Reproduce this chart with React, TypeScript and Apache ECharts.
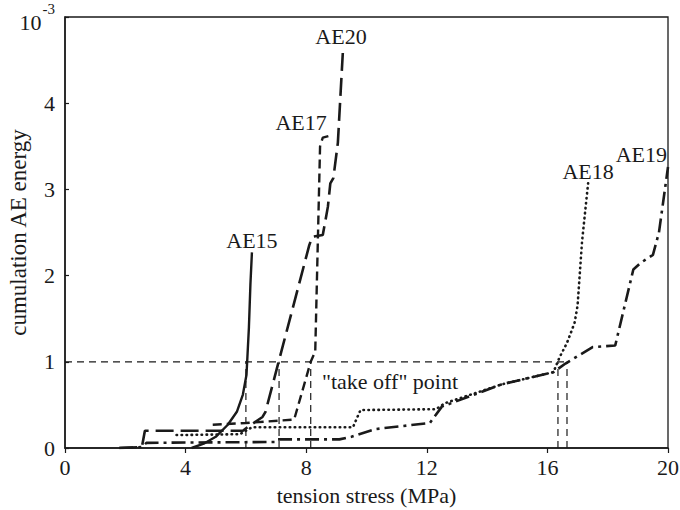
import React, { useEffect, useRef } from 'react';
import * as echarts from 'echarts';

// ---- data (x: tension stress MPa, y: cumulation AE energy x 10^-3) ----
const ae15: number[][] = [
  [4.2, 0], [4.6, 0.05], [5.0, 0.13], [5.4, 0.27], [5.7, 0.42], [5.9, 0.62],
  [6.02, 0.85], [6.1, 1.4], [6.15, 1.9], [6.2, 2.27],
];
const ae20: number[][] = [
  [1.8, 0], [2.55, 0.01], [2.65, 0.2], [5.9, 0.2], [6.05, 0.24], [6.55, 0.36],
  [6.65, 0.42], [8.1, 2.35], [8.2, 2.45], [8.55, 2.47], [8.72, 2.8], [8.8, 3.07],
  [8.9, 3.13], [9.05, 3.54], [9.22, 4.62],
];
const ae17: number[][] = [
  [4.9, 0.27], [6.0, 0.29], [7.6, 0.33], [8.15, 1.0], [8.3, 1.12], [8.46, 3.5],
  [8.55, 3.6], [8.75, 3.62],
];
const ae18: number[][] = [
  [3.7, 0.15], [5.8, 0.16], [6.2, 0.24], [9.55, 0.24], [9.8, 0.44], [12.3, 0.45],
  [12.6, 0.52], [14.5, 0.74], [16.2, 0.88], [16.4, 1.05], [16.65, 1.22],
  [16.9, 1.45], [17.0, 1.65], [17.15, 2.4], [17.35, 3.07],
];
const ae19: number[][] = [
  [1.8, 0], [2.55, 0.01], [2.7, 0.06], [7.0, 0.07], [7.05, 0.1], [9.1, 0.1],
  [9.5, 0.13], [10.3, 0.22], [12.1, 0.29], [12.5, 0.48], [14.5, 0.74],
  [16.2, 0.88], [16.6, 0.98], [17.5, 1.17], [18.25, 1.19], [18.85, 2.07],
  [19.1, 2.15], [19.5, 2.24], [19.7, 2.5], [20.0, 3.26],
];
const takeOffX = [6.0, 7.1, 8.15, 16.35, 16.65];
const takeOffLevel = 1;
const seriesNames = ['AE15', 'AE20', 'AE17', 'AE18', 'AE19'];
const xTickValues = [0, 4, 8, 12, 16, 20];
const yTopLabel = ['10', '-3'];
const takeOffText = '"take off" point';
const xName = 'tension stress (MPa)';
const yName = 'cumulation AE energy';

const FONT = 'Liberation Serif';
const INK = '#1a1a1a';

function withEndLabel(data: number[][], text: string, position: any, offset: number[], distance = 2) {
  return data.map((p, i) =>
    i === data.length - 1
      ? {
          value: p,
          label: {
            show: true,
            formatter: text,
            position,
            offset,
            distance,
            fontFamily: FONT,
            fontSize: 22,
            color: INK,
          },
        }
      : p
  );
}

export default function App() {
  const ref = useRef<HTMLDivElement>(null);
  useEffect(() => {
    if (!ref.current) return;
    const chart = echarts.init(ref.current, undefined, { renderer: 'svg' });
    const base = {
      type: 'line',
      symbol: 'circle',
      symbolSize: 0,
      showSymbol: true,
      silent: true,
      z: 3,
    };
    const refStyle = { color: INK, width: 1.2, type: [7, 5] };
    const refSeries: any[] = takeOffX.map((x) => ({
      ...base,
      z: 2,
      data: [[x, 0], [x, takeOffLevel]],
      lineStyle: refStyle,
    }));
    refSeries.push({
      ...base,
      z: 2,
      data: [[0, takeOffLevel], [Math.max(...takeOffX), takeOffLevel]],
      lineStyle: refStyle,
    });
    chart.setOption({
      animation: false,
      grid: {
        left: 65, right: 12, top: 17, bottom: 62,
        containLabel: false, outerBoundsMode: 'none',
        show: true, borderColor: INK, borderWidth: 1.3,
      },
      xAxis: {
        type: 'value', min: 0, max: 20, interval: 4,
        name: xName, nameLocation: 'middle', nameGap: 36, nameMoveOverlap: false,
        nameTextStyle: { fontFamily: FONT, fontSize: 22, color: INK },
        axisLine: { show: true, lineStyle: { color: INK, width: 1.5 } },
        axisTick: { show: true, inside: false, length: 5, lineStyle: { color: INK, width: 1.2 } },
        axisLabel: {
          fontFamily: FONT, fontSize: 22, color: INK, margin: 8,
          formatter: (v: number) => (xTickValues.includes(v) ? String(v) : ''),
        },
        splitLine: { show: false },
      },
      yAxis: {
        type: 'value', min: 0, max: 5, interval: 1,
        name: yName, nameLocation: 'middle', nameGap: 35, nameMoveOverlap: false,
        nameTextStyle: { fontFamily: FONT, fontSize: 23, color: INK },
        axisLine: { show: true, lineStyle: { color: INK, width: 1.5 } },
        axisTick: { show: true, inside: true, length: 4, lineStyle: { color: INK, width: 1.2 } },
        axisLabel: {
          fontFamily: FONT, fontSize: 22, color: INK, margin: 10,
          formatter: (v: number) => (v === 5 ? `{b|${yTopLabel[0]}}{s|${yTopLabel[1]}}` : String(v)),
          rich: {
            b: { fontFamily: FONT, fontSize: 22, color: INK, verticalAlign: 'bottom', padding: [10, 0, 0, 0] },
            s: { fontFamily: FONT, fontSize: 15, color: INK, verticalAlign: 'top', padding: [0, 0, 0, 1] },
          },
        },
        splitLine: { show: false },
      },
      series: [
        ...refSeries,
        {
          ...base, name: seriesNames[0],
          data: withEndLabel(ae15, seriesNames[0], 'top', [0, 0], 1),
          lineStyle: { color: INK, width: 2.4, type: 'solid' },
        },
        {
          ...base, name: seriesNames[1],
          data: withEndLabel(ae20, seriesNames[1], 'top', [-2, 0], 2),
          lineStyle: { color: INK, width: 2.6, type: [18, 7] },
        },
        {
          ...base, name: seriesNames[2],
          data: withEndLabel(ae17, seriesNames[2], 'left', [0, -13], 2),
          lineStyle: { color: INK, width: 2.4, type: [9, 5] },
        },
        {
          ...base, name: seriesNames[3],
          data: withEndLabel(ae18, seriesNames[3], 'top', [0, 0], 1),
          lineStyle: { color: INK, width: 2.6, type: [0.5, 4.5], cap: 'round' },
        },
        {
          ...base, name: seriesNames[4],
          data: withEndLabel(ae19, seriesNames[4], 'left', [0, -12], 1),
          lineStyle: { color: INK, width: 2.6, type: [14, 5, 3, 5] },
        },
      ],
      graphic: [
        {
          type: 'text', left: 322, top: 370,
          style: { text: takeOffText, fontFamily: FONT, fontSize: 22, fill: INK },
        },
      ],
    });
    return () => chart.dispose();
  }, []);
  return (
    <div
      ref={ref}
      style={{ position: 'fixed', left: 0, top: 0, width: 680, height: 510, background: '#fff' }}
    />
  );
}
